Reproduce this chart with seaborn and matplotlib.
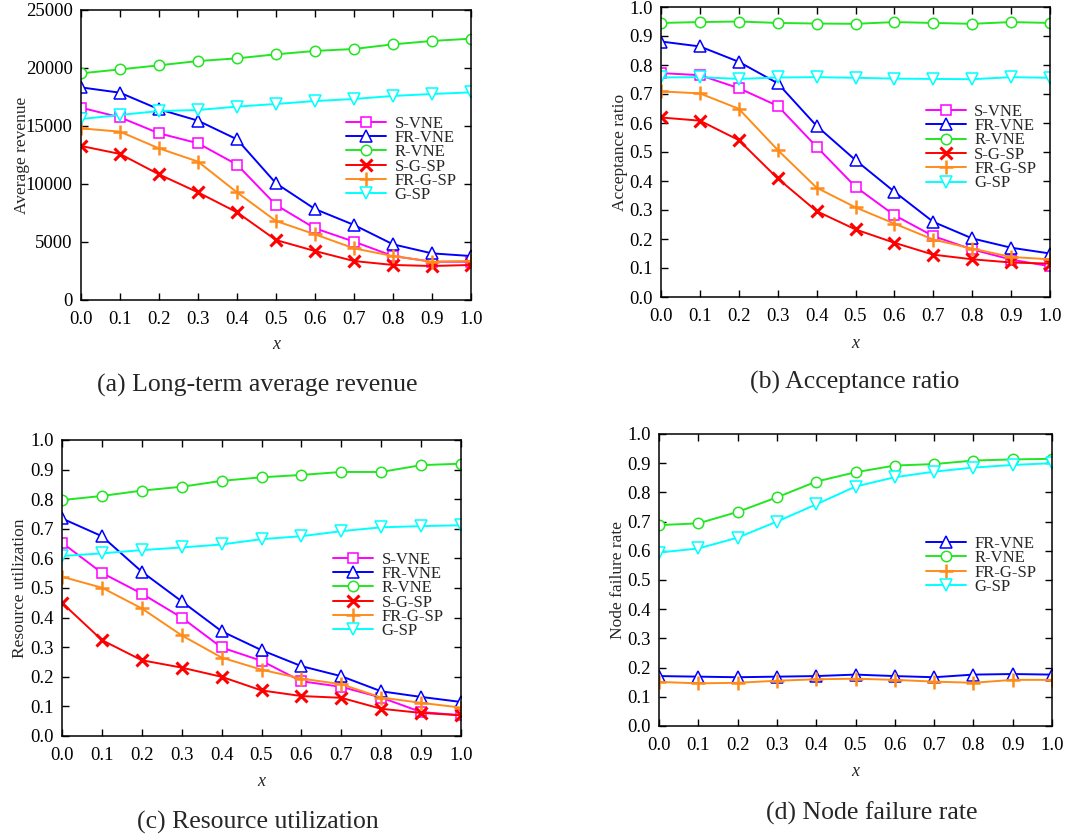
import numpy as np
import pandas as pd
import matplotlib
matplotlib.use("Agg")
import matplotlib.pyplot as plt
import seaborn as sns

# ---------------- data ----------------
x_vals = [0.0, 0.1, 0.2, 0.3, 0.4, 0.5, 0.6, 0.7, 0.8, 0.9, 1.0]
x_ticklabels = ["0.0", "0.1", "0.2", "0.3", "0.4", "0.5", "0.6", "0.7", "0.8", "0.9", "1.0"]

# (a) Long-term average revenue
rev_s_vne = [16580, 15750, 14370, 13510, 11670, 8190, 6180, 5030, 3790, 3300, 3300]
rev_fr_vne = [18330, 17870, 16440, 15460, 13850, 10060, 7840, 6470, 4800, 4020, 3790]
rev_r_vne = [19540, 19880, 20230, 20600, 20830, 21180, 21470, 21640, 22040, 22330, 22530]
rev_s_g_sp = [13280, 12590, 10830, 9280, 7560, 5170, 4220, 3360, 3020, 2930, 3020]
rev_fr_g_sp = [14800, 14510, 13070, 11930, 9280, 6810, 5660, 4450, 3790, 3300, 3360]
rev_g_sp = [15600, 15950, 16290, 16380, 16670, 16900, 17150, 17330, 17590, 17760, 17900]

# (b) Acceptance ratio
acc_s_vne = [0.772, 0.765, 0.720, 0.659, 0.518, 0.380, 0.282, 0.210, 0.164, 0.129, 0.106]
acc_fr_vne = [0.881, 0.864, 0.811, 0.737, 0.590, 0.472, 0.363, 0.259, 0.202, 0.170, 0.150]
acc_r_vne = [0.945, 0.948, 0.950, 0.945, 0.943, 0.942, 0.948, 0.945, 0.942, 0.948, 0.945]
acc_s_g_sp = [0.619, 0.608, 0.541, 0.409, 0.296, 0.233, 0.187, 0.146, 0.130, 0.119, 0.115]
acc_fr_g_sp = [0.709, 0.702, 0.649, 0.507, 0.377, 0.309, 0.253, 0.198, 0.167, 0.138, 0.130]
acc_g_sp = [0.757, 0.758, 0.752, 0.757, 0.758, 0.756, 0.753, 0.752, 0.751, 0.758, 0.756]

# (c) Resource utilization
res_s_vne = [0.653, 0.551, 0.481, 0.400, 0.299, 0.254, 0.185, 0.166, 0.130, 0.081, 0.070]
res_fr_vne = [0.735, 0.675, 0.555, 0.455, 0.354, 0.290, 0.236, 0.202, 0.151, 0.132, 0.115]
res_r_vne = [0.797, 0.811, 0.829, 0.842, 0.862, 0.874, 0.882, 0.892, 0.892, 0.915, 0.920]
res_s_g_sp = [0.450, 0.324, 0.256, 0.231, 0.200, 0.154, 0.135, 0.129, 0.092, 0.078, 0.070]
res_fr_g_sp = [0.538, 0.501, 0.431, 0.340, 0.265, 0.224, 0.194, 0.175, 0.130, 0.112, 0.096]
res_g_sp = [0.608, 0.617, 0.628, 0.637, 0.647, 0.665, 0.675, 0.692, 0.705, 0.709, 0.712]

# (d) Node failure rate
nfr_fr_vne = [0.171, 0.169, 0.167, 0.169, 0.171, 0.176, 0.171, 0.167, 0.176, 0.178, 0.176]
nfr_r_vne = [0.688, 0.694, 0.733, 0.783, 0.837, 0.869, 0.892, 0.897, 0.909, 0.913, 0.915]
nfr_fr_g_sp = [0.151, 0.146, 0.148, 0.155, 0.160, 0.162, 0.158, 0.152, 0.148, 0.158, 0.158]
nfr_g_sp = [0.594, 0.608, 0.645, 0.700, 0.759, 0.820, 0.852, 0.871, 0.885, 0.894, 0.900]

panel_ylabels = ["Average revenue", "Acceptance ratio", "Resource utilization", "Node failure rate"]
panel_captions = ["(a) Long-term average revenue", "(b) Acceptance ratio",
                  "(c) Resource utilization", "(d) Node failure rate"]

# ---------------- style ----------------
sns.set_theme(style="ticks")
plt.rcParams["font.family"] = ["Liberation Serif", "DejaVu Serif"]
plt.rcParams["mathtext.fontset"] = "stix"

styles = {
    "S-VNE": dict(color="#ff00ff", marker="s", mfc="white", ms=7.5, mew=1.1),
    "FR-VNE": dict(color="#0000ff", marker="^", mfc="white", ms=9, mew=1.1),
    "R-VNE": dict(color="#22e622", marker="o", mfc="white", ms=7.5, mew=1.1),
    "S-G-SP": dict(color="#ff0000", marker="x", mfc="none", ms=8, mew=2.2),
    "FR-G-SP": dict(color="#ff8c1a", marker="+", mfc="none", ms=9.5, mew=1.8),
    "G-SP": dict(color="#00ffff", marker="v", mfc="white", ms=9, mew=1.1),
}

W, H = 1088, 836
fig = plt.figure(figsize=(W / 100, H / 100), dpi=100)
fig.patch.set_facecolor("white")

def px_axes(left, top, right, bottom):
    return fig.add_axes([left / W, (H - bottom) / H, (right - left) / W, (bottom - top) / H])

tenths = list(np.round(np.arange(0, 1.01, 0.1), 1))
panels = [
    dict(rect=(81, 10, 471, 300), ylim=(0, 25000), yticks=[0, 5000, 10000, 15000, 20000, 25000],
         yticklabels=["0", "5000", "10000", "15000", "20000", "25000"],
         series=[("S-VNE", rev_s_vne), ("FR-VNE", rev_fr_vne), ("R-VNE", rev_r_vne),
                 ("S-G-SP", rev_s_g_sp), ("FR-G-SP", rev_fr_g_sp), ("G-SP", rev_g_sp)],
         ylabx=-0.13, xlaby=-0.125, leg=(0.655, 0.485), cap=(257, 385)),
    dict(rect=(661, 7, 1050, 297), ylim=(0, 1.0), yticks=tenths,
         yticklabels=x_ticklabels,
         series=[("S-VNE", acc_s_vne), ("FR-VNE", acc_fr_vne), ("R-VNE", acc_r_vne),
                 ("S-G-SP", acc_s_g_sp), ("FR-G-SP", acc_fr_g_sp), ("G-SP", acc_g_sp)],
         ylabx=-0.085, xlaby=-0.13, leg=(0.655, 0.515), cap=(855, 382)),
    dict(rect=(62, 440, 461, 736), ylim=(0, 1.0), yticks=tenths,
         yticklabels=x_ticklabels,
         series=[("S-VNE", res_s_vne), ("FR-VNE", res_fr_vne), ("R-VNE", res_r_vne),
                 ("S-G-SP", res_s_g_sp), ("FR-G-SP", res_fr_g_sp), ("G-SP", res_g_sp)],
         ylabx=-0.085, xlaby=-0.125, leg=(0.655, 0.475), cap=(258, 822)),
    dict(rect=(659, 434, 1052, 726), ylim=(0, 1.0), yticks=tenths,
         yticklabels=x_ticklabels,
         series=[("FR-VNE", nfr_fr_vne), ("R-VNE", nfr_r_vne),
                 ("FR-G-SP", nfr_fr_g_sp), ("G-SP", nfr_g_sp)],
         ylabx=-0.085, xlaby=-0.127, leg=(0.655, 0.55), cap=(872, 813)),
]

for i, p in enumerate(panels):
    ax = px_axes(*p["rect"])
    for name, vals in p["series"]:
        st = styles[name]
        df = pd.DataFrame({"x": x_vals, "y": vals})
        sns.lineplot(data=df, x="x", y="y", ax=ax, color=st["color"], linewidth=1.4,
                     marker=st["marker"], markersize=st["ms"], markerfacecolor=st["mfc"],
                     markeredgecolor=st["color"], markeredgewidth=st["mew"], label=name,
                     legend=False)
    ax.set_xlim(0, 1.0)
    ax.set_ylim(*p["ylim"])
    ax.set_xticks(x_vals)
    ax.set_xticklabels(x_ticklabels)
    ax.set_yticks(p["yticks"])
    ax.set_yticklabels(p["yticklabels"])
    ax.tick_params(direction="in", length=5, width=1.0, top=True, right=True,
                   labelsize=13.5, colors="black")
    ax.tick_params(axis="x", pad=8)
    ax.tick_params(axis="y", pad=6)
    for sp in ax.spines.values():
        sp.set_linewidth(1.1)
        sp.set_color("black")
    ax.set_ylabel(panel_ylabels[i], fontsize=12.5)
    ax.set_xlabel("x", fontsize=13, style="italic")
    ax.yaxis.set_label_coords(p["ylabx"], 0.5)
    ax.xaxis.set_label_coords(0.5, p["xlaby"])
    ax.grid(False)
    ax.set_facecolor("white")
    ax.legend(loc="center left", bbox_to_anchor=p["leg"], frameon=False, fontsize=12,
              handlelength=2.4, handletextpad=0.5, labelspacing=-0.1, borderpad=0.1)
    cx, cy = p["cap"]
    fig.text(cx / W, 1 - cy / H, panel_captions[i], ha="center", va="center", fontsize=18.5)

fig.savefig("out.png", dpi=100, facecolor="white")
